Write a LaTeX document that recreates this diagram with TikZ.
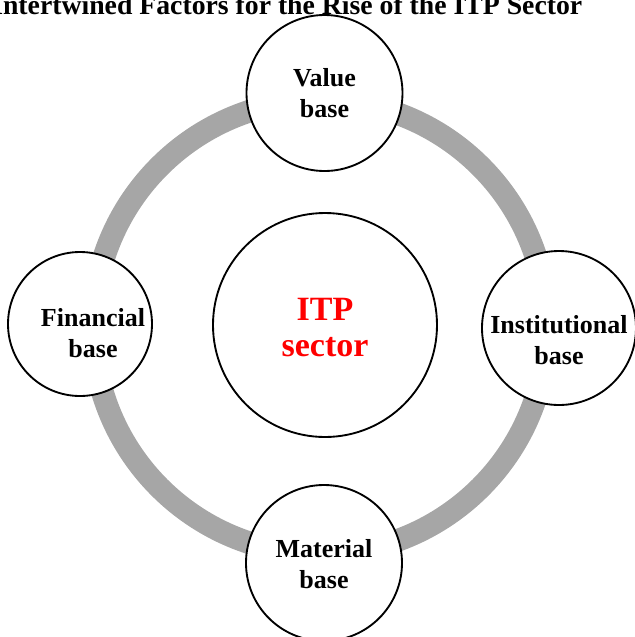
\documentclass[tikz,border=0pt]{standalone}
\usepackage{fontspec}
\setmainfont{Liberation Serif}
\usepackage{xcolor}
\definecolor{ringgray}{RGB}{166,166,166}
\definecolor{itpred}{RGB}{255,0,0}

\begin{document}
\begin{tikzpicture}[x=0.75pt,y=0.75pt,yscale=-1,xscale=1,
  base/.style={circle, draw=black, line width=1.4pt, fill=white, inner sep=0pt},
  basetext/.style={align=center, inner sep=0pt, font=\bfseries\fontsize{19.5}{23.5}\selectfont},
  ringline/.style={draw=ringgray, line width=17pt}]
\useasboundingbox (0,0) rectangle (635,637);
\clip (0,0) rectangle (635,637);

% Text Node
\node[anchor=base west, font=\bfseries\fontsize{20.8}{25}\selectfont, inner sep=0pt] (title) at (-8,14) {Intertwined Factors for the Rise of the ITP Sector};

%Shape: Circle (gray ring)
\coordinate (hub) at (320,327);
\draw[ringline] (hub) circle (227);

%Shape: Circle [Value base]
\node[base, minimum size=117pt] (value) at (324.5,93) {};
%Shape: Circle [Financial base]
\node[base, minimum size=108pt] (financial) at (80,324) {};
%Shape: Circle [Institutional base]
\node[base, minimum size=115.5pt] (institutional) at (559,328) {};
%Shape: Circle [Material base]
\node[base, minimum size=117pt] (material) at (324,563) {};
%Shape: Circle [ITP sector]
\node[base, minimum size=168pt] (itp) at (325,325) {};

% Text Node
\node[basetext] (valuetext) at (324.5,93) {Value\\base};
% Text Node
\node[basetext] (financialtext) at (93,333) {Financial\\base};
% Text Node
\node[basetext] (institutionaltext) at (559,340) {Institutional\\base};
% Text Node
\node[basetext] (materialtext) at (324,564) {Material\\base};
% Text Node
\node[basetext, text=itpred, font=\bfseries\fontsize{25.5}{27}\selectfont] (itptext) at (325,328) {ITP\\sector};

\end{tikzpicture}
\end{document}
